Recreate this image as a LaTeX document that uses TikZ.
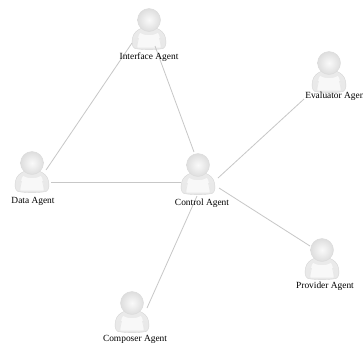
\documentclass[tikz,border=0pt]{standalone}
\usepackage{fontspec}
\setmainfont{Liberation Serif}
\tikzset{
  x=0.75pt,y=-0.75pt,
  agentbox/.style={draw=none,fill=none,inner sep=0pt,minimum width=27pt,minimum height=33pt},
  agentlabel/.style={font=\fontsize{7.05}{9}\selectfont,inner sep=0pt,text=black},
  link/.style={draw=black!22,line width=0.6pt},
  pics/agent/.style={code={
    \path[draw=black!16,line width=0.3pt,top color=black!8,bottom color=black!9]
      (-7,8) .. controls (-12,10) and (-15.5,13) .. (-16.5,18)
      .. controls (-17.5,23) and (-17,27) .. (-14,28.5)
      .. controls (-6,30) and (6,30) .. (14,28.5)
      .. controls (17,27) and (17.5,23) .. (16.5,18)
      .. controls (15.5,13) and (12,10) .. (7,8) -- cycle;
    \path[fill=white,opacity=0.7]
      (-9,13) .. controls (-11,16) and (-12,22) .. (-11.5,27.5)
      -- (11.5,27.5) .. controls (12,22) and (11,16) .. (9,13)
      .. controls (4,16) and (-4,16) .. (-9,13) -- cycle;
    \draw[black!9,line width=0.5pt] (-12.5,27) -- (-10.5,18);
    \draw[black!9,line width=0.5pt] (12.5,27) -- (10.5,18);
    \path[draw=black!14,line width=0.3pt,inner color=black!2,outer color=black!13]
      (0,0) circle[radius=11.5];
  }}
}
\begin{document}
\begin{tikzpicture}
\useasboundingbox (0,0) rectangle (363,347);
\fill[white] (0,0) rectangle (363,347);
\pic at (149,20) {agent};
\pic at (329,63) {agent};
\pic at (198,165) {agent};
\pic at (32,163) {agent};
\pic at (322,250) {agent};
\pic at (132,303) {agent};
\node[agentbox] (interface) at (149,31) {};
\node[agentbox] (evaluator) at (329,74) {};
\node[agentbox] (control) at (198,176) {};
\node[agentbox] (data) at (33,175) {};
\node[agentbox] (provider) at (322,261) {};
\node[agentbox] (composer) at (132,314) {};
\draw[link] ([shift={(-17,12)}]interface.center) -- ([shift={(13,-5)}]data.center);
\draw[link] ([shift={(6,15)}]interface.center) -- ([shift={(-4,-24)}]control.center);
\draw[link] ([shift={(18,7)}]data.center) -- ([shift={(-17,6)}]control.center);
\draw[link] ([shift={(20,2)}]control.center) -- ([shift={(-25,25)}]evaluator.center);
\draw[link] ([shift={(21,12)}]control.center) -- ([shift={(-12,-15)}]provider.center);
\draw[link] ([shift={(-1,20)}]control.center) -- ([shift={(15,-6)}]composer.center);
\node[agentlabel] (tinterface) at (149,57) {Interface Agent};
\node[agentlabel,anchor=west] (tevaluator) at (305,96) {Evaluator Agent};
\node[agentlabel] (tcontrol) at (202,203) {Control Agent};
\node[agentlabel] (tdata) at (33,201) {Data Agent};
\node[agentlabel] (tprovider) at (325,286) {Provider Agent};
\node[agentlabel] (tcomposer) at (135,339) {Composer Agent};
\end{tikzpicture}
\end{document}
